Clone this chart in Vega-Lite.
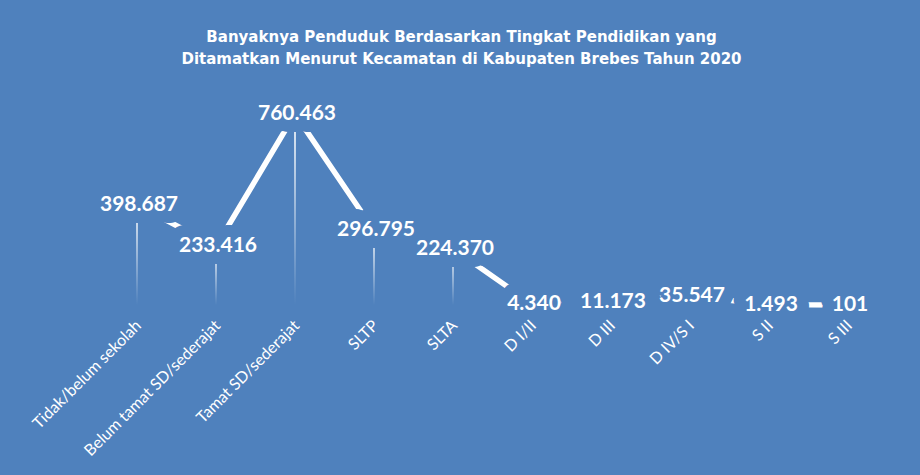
{
  "$schema": "https://vega.github.io/schema/vega-lite/v6.json",
  "width": 790,
  "height": 201,
  "autosize": {"type": "none"},
  "padding": {"left": 97.5, "top": 104, "right": 32.5, "bottom": 170},
  "background": "#4F81BD",
  "title": {
    "text": ["Banyaknya Penduduk Berdasarkan Tingkat Pendidikan yang", "Ditamatkan Menurut Kecamatan di Kabupaten Brebes Tahun 2020"],
    "color": "white",
    "font": "DejaVu Sans",
    "fontSize": 15,
    "fontWeight": "bold",
    "anchor": "middle",
    "frame": "group",
    "lineHeight": 22,
    "offset": 36,
    "dx": -31
  },
  "data": {
    "values": [
      {"pendidikan": "Tidak/belum sekolah", "jumlah": 398687},
      {"pendidikan": "Belum tamat SD/sederajat", "jumlah": 233416},
      {"pendidikan": "Tamat SD/sederajat", "jumlah": 760463},
      {"pendidikan": "SLTP", "jumlah": 296795},
      {"pendidikan": "SLTA", "jumlah": 224370},
      {"pendidikan": "D I/II", "jumlah": 4340},
      {"pendidikan": "D III", "jumlah": 11173},
      {"pendidikan": "D IV/S I", "jumlah": 35547},
      {"pendidikan": "S II", "jumlah": 1493},
      {"pendidikan": "S III", "jumlah": 101}
    ]
  },
  "encoding": {
    "x": {
      "field": "pendidikan",
      "type": "nominal",
      "sort": null,
      "scale": {"type": "band", "paddingInner": 0, "paddingOuter": 0},
      "axis": {
        "title": null,
        "labelAngle": -45,
        "labelColor": "white",
        "labelFont": "Lato",
        "labelFontSize": 16,
        "labelLimit": 400,
        "domain": false,
        "ticks": false,
        "labelPadding": 12,
        "labelOffset": -4,
        "zindex": 1
      }
    },
    "y": {
      "field": "jumlah",
      "type": "quantitative",
      "scale": {"domain": [0, 800000]},
      "axis": null
    }
  },
  "layer": [
    {
      "mark": {
        "type": "bar",
        "width": 2,
        "color": {
          "gradient": "linear",
          "x1": 0, "y1": 0, "x2": 0, "y2": 1,
          "stops": [
            {"offset": 0, "color": "rgba(255,255,255,0.85)"},
            {"offset": 1, "color": "rgba(255,255,255,0)"}
          ]
        }
      }
    },
    {
      "mark": {"type": "line", "color": "white", "strokeWidth": 5.5, "strokeCap": "butt"}
    },
    {
      "mark": {
        "type": "text",
        "font": "Lato",
        "fontSize": 21,
        "fontWeight": "bold",
        "dx": 2,
        "baseline": "middle",
        "fill": "#4F81BD",
        "stroke": "#4F81BD",
        "strokeWidth": 24,
        "strokeJoin": "round"
      },
      "encoding": {"text": {"field": "jumlah", "type": "quantitative", "format": ",d"}}
    },
    {
      "mark": {
        "type": "text",
        "font": "Lato",
        "fontSize": 21,
        "fontWeight": "bold",
        "dx": 2,
        "baseline": "middle",
        "color": "white"
      },
      "encoding": {"text": {"field": "jumlah", "type": "quantitative", "format": ",d"}}
    }
  ],
  "config": {
    "view": {"stroke": null},
    "locale": {
      "number": {"decimal": ",", "thousands": ".", "grouping": [3], "currency": ["Rp", ""]}
    }
  }
}
